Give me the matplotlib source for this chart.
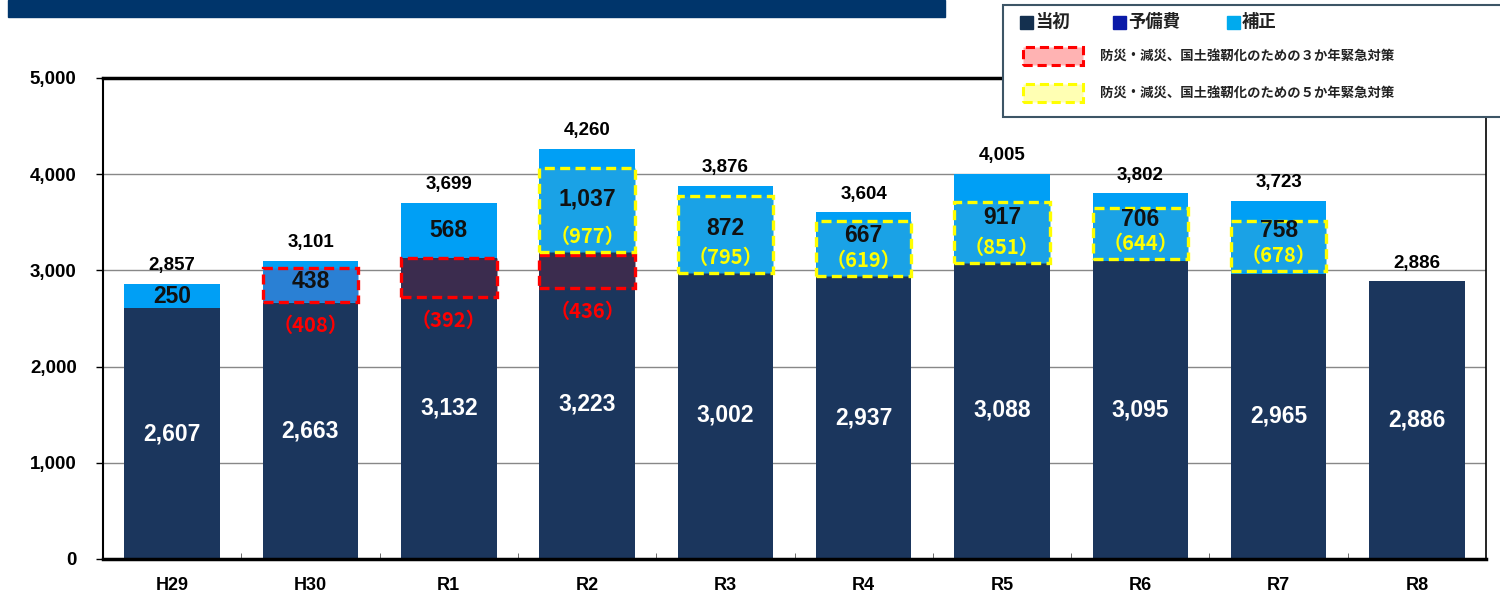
import numpy as np
import matplotlib.pyplot as plt
from matplotlib.patches import Rectangle

# data
years = ['H29', 'H30', 'R1', 'R2', 'R3', 'R4', 'R5', 'R6', 'R7', 'R8']
initial = [2607, 2663, 3132, 3223, 3002, 2937, 3088, 3095, 2965, 2886]
supplement = [250, 438, 568, 1037, 872, 667, 917, 706, 758, 0]
totals = [2857, 3101, 3699, 4260, 3876, 3604, 4005, 3802, 3723, 2886]

# 3-year emergency measures (red dashed boxes)
red_idx = [1, 2, 3]
red_amount = [408, 392, 436]
red_lo = [2672, 2723, 2817]
red_hi = [3025, 3129, 3160]

# 5-year emergency measures (yellow dashed boxes)
yel_idx = [3, 4, 5, 6, 7, 8]
yel_amount = [977, 795, 619, 851, 644, 678]
yel_lo = [3191, 2973, 2942, 3077, 3118, 2994]
yel_hi = [4065, 3773, 3513, 3711, 3649, 3513]

NAVY = '#1b365d'
LIGHT = '#009ff5'
NUM = ['Liberation Sans', 'DejaVu Sans']
JP = ['Noto Sans CJK JP', 'DejaVu Sans']

fig = plt.figure(figsize=(15, 5.99), dpi=100)
ax = fig.add_axes([0.0687, 0.0668, 0.922, 0.803])

x = np.arange(len(years))
w = 0.69
ax.bar(x, initial, width=w, color=NAVY, zorder=2)
ax.bar(x, supplement, width=w, bottom=initial, color=LIGHT, zorder=2)

dash = (0, (3, 1.6))
for i, amt, lo, hi in zip(red_idx, red_amount, red_lo, red_hi):
    fc = '#2a80d4' if lo >= initial[i] else '#3b2c4e'
    ax.add_patch(Rectangle((i - w / 2, lo), w, hi - lo, facecolor=fc,
                           edgecolor='#ff0000', linewidth=2.4, linestyle=dash, zorder=3))
    ax.annotate('（%d）' % amt, (i, lo), xytext=(0, -17), textcoords='offset points',
                ha='center', va='center', color='#ff0000', fontsize=14.5,
                fontweight='bold', family=JP, zorder=5)

yel_bottom = {}
for i, amt, lo, hi in zip(yel_idx, yel_amount, yel_lo, yel_hi):
    yel_bottom[i] = lo
    ax.add_patch(Rectangle((i - w / 2, lo), w, hi - lo, facecolor='#1aa2e6',
                           edgecolor='#ffff00', linewidth=2.4, linestyle=dash, zorder=3))
    ax.annotate('（%d）' % amt, (i, lo), xytext=(0, 11), textcoords='offset points',
                ha='center', va='center', color='#ffff00', fontsize=14.5,
                fontweight='bold', family=JP, zorder=5)

for i in range(len(years)):
    ax.text(i, initial[i] / 2, f'{initial[i]:,}', ha='center', va='center',
            color='white', fontsize=16.5, fontweight='bold', family=NUM, zorder=5)
    if supplement[i]:
        ly = initial[i] + supplement[i] / 2
        if i in yel_bottom:
            ly = max(ly, yel_bottom[i] + 416)
        ax.text(i, ly, f'{supplement[i]:,}', ha='center', va='center',
                color='#111111', fontsize=16.5, fontweight='bold', family=NUM, zorder=5)
    ax.annotate(f'{totals[i]:,}', (i, max(totals[i], initial[i] + supplement[i])),
                xytext=(0, 7), textcoords='offset points', ha='center', va='bottom',
                color='black', fontsize=13.5, fontweight='bold', family=NUM, zorder=5)

ax.set_xlim(-0.5, len(years) - 0.5)
ax.set_ylim(0, 5000)
ax.set_yticks(range(0, 5001, 1000))
ax.set_yticklabels([f'{v:,}' for v in range(0, 5001, 1000)], fontsize=13.5,
                   fontweight='bold', family=NUM)
ax.set_xticks(x)
ax.set_xticklabels(years, fontsize=13, fontweight='bold', family=NUM)
ax.tick_params(axis='x', length=0, pad=13)
ax.set_xticks(x[:-1] + 0.5, minor=True)
ax.tick_params(axis='x', which='minor', direction='in', length=4, color='#555555')
ax.tick_params(axis='y', length=5, width=1, pad=14)
for v in range(1000, 5000, 1000):
    ax.axhline(v, color='#888888', linewidth=1, zorder=1)
ax.spines['top'].set_linewidth(2.5)
ax.spines['bottom'].set_linewidth(2.5)
ax.spines['left'].set_linewidth(1.5)
ax.spines['right'].set_linewidth(1.2)

# title bar
fig.patches.append(Rectangle((8 / 1500, 1 - 17 / 599), 937 / 1500, 17 / 599,
                             transform=fig.transFigure, color='#00356b'))

# legend box
fig.patches.append(Rectangle((1003 / 1500, 1 - 117 / 599), 0.34, 112 / 599,
                             transform=fig.transFigure, facecolor='white',
                             edgecolor='#3d5566', linewidth=1.5, zorder=10))


def fx(px):
    return px / 1500


def fy(py):
    return 1 - py / 599


for sx, col, lab in [(1020, '#14304f', '当初'), (1113, '#0a1aa8', '予備費'), (1227, '#00aaee', '補正')]:
    fig.patches.append(Rectangle((fx(sx), fy(29)), fx(13), 13 / 599,
                                 transform=fig.transFigure, color=col, zorder=11))
    fig.text(fx(sx + 15), fy(22), lab, fontsize=12.5, fontweight='bold', family=JP,
             va='center', ha='left', color='#222222', zorder=11)

for py, fc, ec, lab in [(56, '#ffb3b3', '#ff0000', '防災・減災、国土強靭化のための３か年緊急対策'),
                        (93, '#ffffb3', '#ffff00', '防災・減災、国土強靭化のための５か年緊急対策')]:
    fig.patches.append(Rectangle((fx(1023), fy(py + 9)), fx(60), 18 / 599,
                                 transform=fig.transFigure, facecolor=fc, edgecolor=ec,
                                 linewidth=2.2, linestyle=(0, (3, 1.6)), zorder=11))
    fig.text(fx(1100), fy(py), lab, fontsize=9.6, fontweight='bold', family=JP,
             va='center', ha='left', color='#222222', zorder=11)

fig.savefig('out.png', dpi=100)
